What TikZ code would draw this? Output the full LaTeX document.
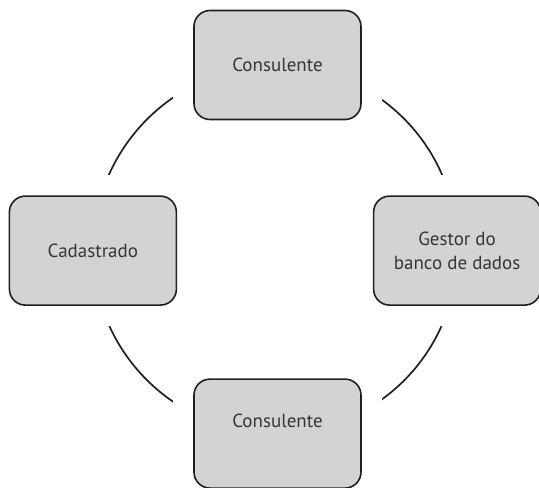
\documentclass[tikz,border=0pt]{standalone}
\usepackage{fontspec}
\setmainfont{PT Sans}
\usetikzlibrary{positioning,backgrounds}
\definecolor{boxgray}{RGB}{210,211,213}
\definecolor{ink}{RGB}{35,31,32}

\begin{document}
\begin{tikzpicture}[
     x=1pt,y=1pt,
     align=center,
     font=\fontsize{19}{24}\selectfont,
     text=ink!90,
     every edge/.style={draw=ink,line width=1.7pt},
     role/.style={rectangle,rounded corners=16pt,draw=ink,line width=1.6pt,fill=boxgray,
        minimum width=167pt,minimum height=109pt,
        preaction={draw=white,line width=42pt}}]

    \useasboundingbox (0,0) rectangle (539,-488);

    \node[role] (consultop) at (277.5,-65) {Consulente};

    \node[role] (cadastrado) [below left=75pt and 16pt of consultop] {Cadastrado};

    \node[role] (gestor) [below right=75pt and 11pt of consultop] {Gestor do\\banco de dados};

    \node[role,text depth=25pt] (consulbot) [below=258pt of consultop] {Consulente};

  \begin{pgfonlayer}{background}
      \path (consultop.center) edge [bend right=45] (cadastrado.center)
            (cadastrado.center) edge [bend right=45] (consulbot.center)
            (consulbot.center) edge [bend right=45] (gestor.center)
            (gestor.center) edge [bend right=45] (consultop.center);
  \end{pgfonlayer}

  \end{tikzpicture}
\end{document}
